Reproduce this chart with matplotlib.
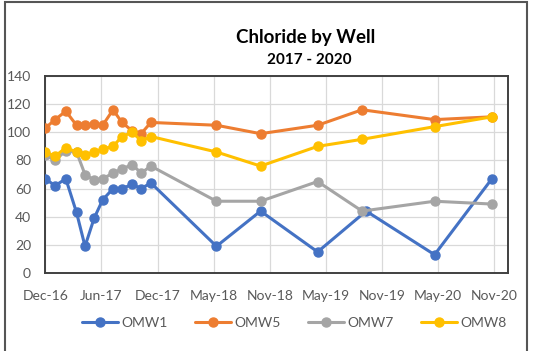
import datetime as dt
import matplotlib
matplotlib.use("Agg")
import matplotlib.pyplot as plt
import matplotlib.dates as mdates
from matplotlib.patches import Rectangle

plt.rcParams['font.family'] = ['Lato', 'DejaVu Sans']

# sampling dates (shared by all wells)
dates = ["2016-12-12", "2017-01-12", "2017-02-15", "2017-03-21", "2017-04-17",
         "2017-05-16", "2017-06-12", "2017-07-15", "2017-08-12", "2017-09-14",
         "2017-10-12", "2017-11-12", "2018-06-08", "2018-10-26", "2019-04-25",
         "2019-09-13", "2020-04-30", "2020-10-29"]
# OMW1 was sampled a bit later in fall 2019
omw1_dates = dates[:15] + ["2019-09-26"] + dates[16:]

omw1 = [67, 62, 67, 43, 19, 39, 52, 60, 60, 63, 60, 64, 19, 44, 15, 44, 13, 67]
omw5 = [103, 109, 115, 105, 105, 106, 105, 116, 107, 101, 99, 107, 105, 99, 105, 116, 109, 111]
omw7 = [84, 80, 87, 86, 70, 66, 67, 71, 74, 77, 71, 76, 51, 51, 65, 44, 51, 49]
omw8 = [86, 83, 89, 86, 84, 86, 88, 90, 97, 100, 94, 97, 86, 76, 90, 95, 104, 111]

series = [("OMW1", omw1_dates, omw1, "#4472C4"),
          ("OMW5", dates, omw5, "#ED7D31"),
          ("OMW7", dates, omw7, "#A5A5A5"),
          ("OMW8", dates, omw8, "#FFC000")]

axis_start = dt.date(2016, 12, 12)
tick_step = 178  # days between category labels

fig = plt.figure(figsize=(5.36, 3.51), dpi=100)
ax = fig.add_axes([45 / 536, 1 - 273 / 351, (508 - 45) / 536, (273 - 76) / 351])

for name, d, vals, col in series:
    x = [dt.date.fromisoformat(s) for s in d]
    ax.plot(x, vals, color=col, lw=2.2, marker="o", ms=6.5, label=name,
            solid_capstyle="round", zorder=3)

ticks = [axis_start + dt.timedelta(days=tick_step * k) for k in range(9)]
ax.set_xticks(ticks)
ax.xaxis.set_major_formatter(mdates.DateFormatter("%b-%y"))
ax.set_xlim(axis_start - dt.timedelta(days=1), axis_start + dt.timedelta(days=1468))
ax.set_ylim(0, 140)
ax.set_yticks(range(0, 141, 20))

ax.grid(True, color="#D9D9D9", lw=0.9)
ax.set_axisbelow(True)
ax.tick_params(length=0, colors="#595959", labelsize=10)
ax.tick_params(axis="x", pad=12)
ax.tick_params(axis="y", pad=10)
for sp in ax.spines.values():
    sp.set_color("#404040")
    sp.set_linewidth(1.4)

fig.text(0.571, 0.892, "Chloride by Well", ha="center", va="center",
         fontsize=13.5, fontweight="bold", color="#000000")
fig.text(0.577, 0.829, "2017 - 2020", ha="center", va="center",
         fontsize=11, fontweight="bold", color="#000000")

leg = fig.legend(loc="center", bbox_to_anchor=(0.549, 0.080), ncol=4,
                 frameon=False, fontsize=10, handlelength=2.6,
                 columnspacing=2.0, handletextpad=0.2, borderpad=0)
for t in leg.get_texts():
    t.set_color("#595959")

fig.patches.append(Rectangle((5 / 536, -0.02), (527 - 5) / 536, 1.02 - 2 / 351,
                             transform=fig.transFigure, fill=False,
                             edgecolor="#555555", lw=1.5))

fig.savefig("out.png", dpi=100)
